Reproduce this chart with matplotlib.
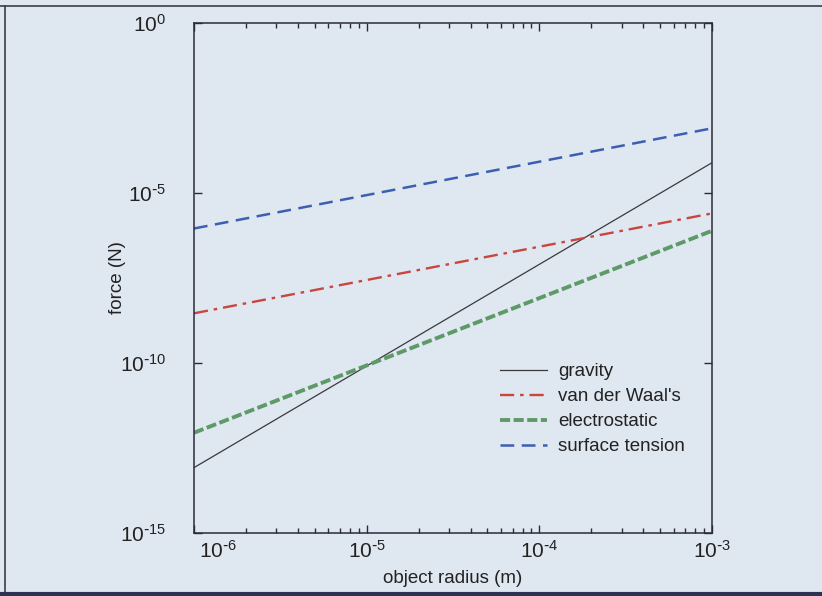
import matplotlib
matplotlib.use("Agg")
import matplotlib.pyplot as plt
from matplotlib.lines import Line2D
from matplotlib.ticker import LogLocator, NullLocator, FuncFormatter
import numpy as np

# force vs object radius (straight lines on log-log)
radius = [1e-6, 1e-3]
gravity = [8.5e-14, 7.7e-5]
van_der_waals = [2.9e-9, 2.5e-6]
electrostatic = [9.0e-13, 7.7e-7]
surface_tension = [9.0e-7, 7.9e-4]

labels = ["gravity", "van der Waal's", "electrostatic", "surface tension"]
x_ticks = [1e-6, 1e-5, 1e-4, 1e-3]
y_ticks = [1e-15, 1e-10, 1e-5, 1e0]

plt.rcParams['font.family'] = ['Liberation Sans', 'DejaVu Sans']
plt.rcParams['mathtext.default'] = 'regular'

bg = '#dfe7f1'
ink = '#2b2b38'
txt = '#222222'


def pow_label(v, pos=None):
    e = int(round(np.log10(v)))
    s = str(e).replace('-', r'\text{-}')
    return r'$10^{%s}$' % s


fig = plt.figure(figsize=(8.22, 5.96), dpi=100, facecolor=bg)
ax = fig.add_axes([194 / 822, 1 - 533.3 / 596, 518 / 822, 510.6 / 596])
ax.set_facecolor(bg)

ax.loglog(radius, gravity, color='#3a3a3a', lw=0.9, ls='-', label=labels[0])
ax.loglog(radius, van_der_waals, color='#c9463f', lw=1.7, ls=(0, (6, 2.5, 1.5, 2.5)), label=labels[1])
ax.loglog(radius, electrostatic, color='#5e9a68', lw=2.8, ls=(0, (2.6, 0.9)), label=labels[2])
ax.loglog(radius, surface_tension, color='#3c5fb0', lw=1.8, ls=(0, (5.5, 3)), label=labels[3])

ax.set_xlim(x_ticks[0], x_ticks[-1])
ax.set_ylim(y_ticks[0], y_ticks[-1])
ax.set_xticks(x_ticks)
ax.set_yticks(y_ticks)
ax.yaxis.set_minor_locator(NullLocator())
ax.xaxis.set_minor_locator(LogLocator(base=10, subs=range(2, 10)))
ax.yaxis.set_major_formatter(FuncFormatter(pow_label))
# first x label is drawn separately, shifted right of its tick as in the original
ax.xaxis.set_major_formatter(FuncFormatter(lambda v, p: '' if p == 0 else pow_label(v)))
ax.annotate(pow_label(x_ticks[0]), xy=(x_ticks[0], 0), xycoords=('data', 'axes fraction'),
            xytext=(17, -5), textcoords='offset points', ha='center', va='top',
            fontsize=15, color=txt)

ax.tick_params(which='both', direction='in', top=True, right=True, colors=ink, labelcolor=txt)
ax.tick_params(axis='x', which='major', length=6, width=1, labelsize=15, pad=5)
ax.tick_params(axis='x', which='minor', length=3.5, width=1)
ax.tick_params(axis='y', which='major', length=6, width=1, labelsize=15, pad=20)
for sp in ax.spines.values():
    sp.set_color(ink)
    sp.set_linewidth(1.1)

ax.set_xlabel('object radius (m)', fontsize=13.5, color=txt)
ax.xaxis.set_label_coords(0.5, -0.088)
ax.xaxis.label.set_va('center')
ax.set_ylabel('force (N)', fontsize=13.5, color=txt)
ax.yaxis.set_label_coords(-0.147, 0.5)
ax.yaxis.label.set_va('center')

leg = ax.legend(loc='upper left', bbox_to_anchor=(0.591, 0.333), frameon=False, fontsize=13.5,
                handlelength=2.5, handletextpad=0.6, labelspacing=0.42, borderpad=0, borderaxespad=0)
for t in leg.get_texts():
    t.set_color(txt)

# page borders from the scan
fig.add_artist(Line2D([0, 1], [1 - 6 / 596, 1 - 6 / 596], transform=fig.transFigure, color='#3a3d4a', lw=1.2))
fig.add_artist(Line2D([5 / 822, 5 / 822], [3 / 596, 1 - 6 / 596], transform=fig.transFigure, color='#3a3d4a', lw=1.2))
fig.add_artist(Line2D([0, 1], [2 / 596, 2 / 596], transform=fig.transFigure, color='#2a3350', lw=3))

fig.savefig('out.png', dpi=100, facecolor=bg)
